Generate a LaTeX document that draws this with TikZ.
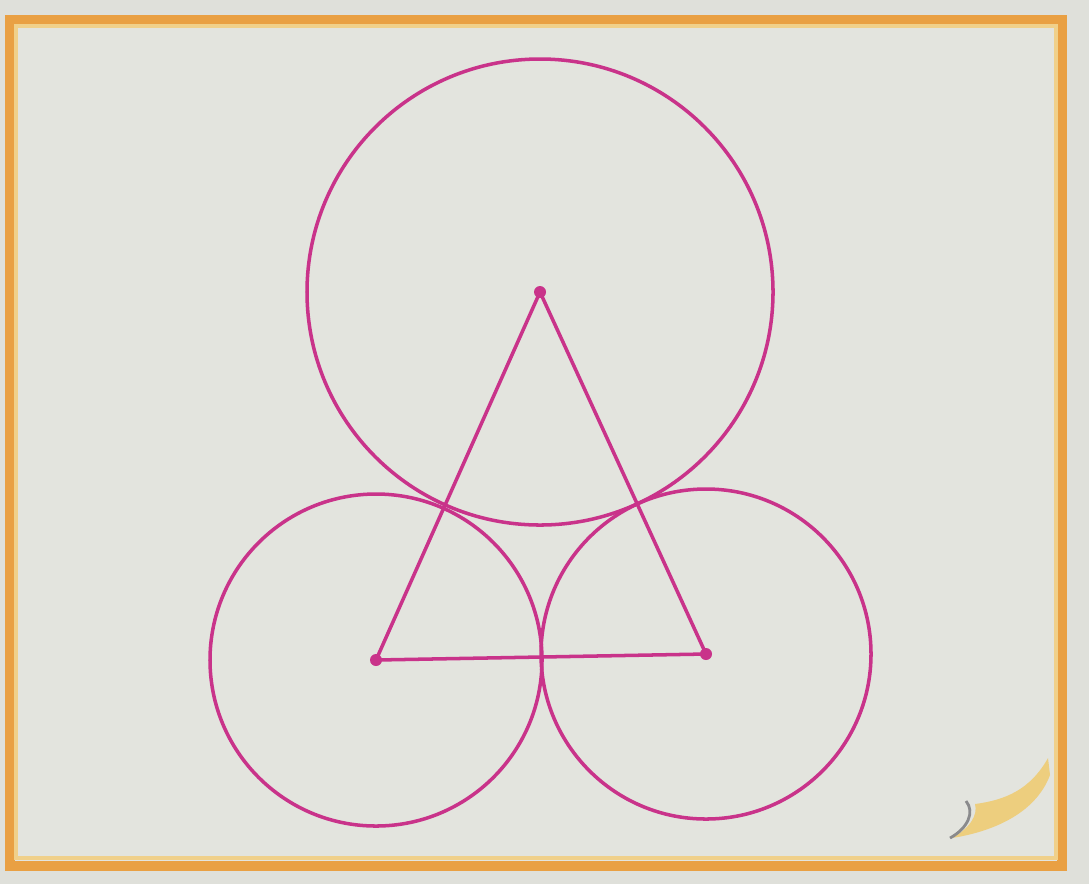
\documentclass[tikz,border=0pt]{standalone}
\usetikzlibrary{calc}
\definecolor{pagebg}{HTML}{DFE0DA}
\definecolor{framebg}{HTML}{E3E4DE}
\definecolor{frameorange}{HTML}{E9A043}
\definecolor{frameyellow}{HTML}{F0D08A}
\definecolor{curlfill}{HTML}{EDCE7E}
\definecolor{curlgray}{HTML}{8A8A8C}
\definecolor{magentaline}{HTML}{C9338A}

\begin{document}
\begin{tikzpicture}[
    x=0.01cm, y=-0.01cm,
    figline/.style={draw=magentaline, line width=1pt},
    vertexdot/.style={fill=magentaline},
    outerframe/.style={draw=frameorange, line width=3pt},
    innerframe/.style={draw=frameyellow, line width=1.2pt},
]

% --- Page and frame ---
\fill[pagebg] (0,0) rectangle (1089,884);
\useasboundingbox (0,0) rectangle (1089,884);
\fill[framebg] (12,22) rectangle (1060,864);
\draw[outerframe] (10,20) rectangle (1062,866);
\draw[innerframe] (16,26) rectangle (1056,858);

% --- Page curl ---
\fill[curlfill] (1048,758) .. controls (1030,790) and (1005,800) .. (975,804)
    .. controls (978,815) and (970,828) .. (952,838)
    .. controls (990,832) and (1035,815) .. (1050,775) -- cycle;
\draw[curlgray, line width=0.8pt] (966,801) .. controls (975,812) and (968,828) .. (950,838);

% --- Vertices ---
\coordinate (top) at (540,292);
\coordinate (left) at (376,660);
\coordinate (right) at (706,654);

% --- Circles ---
\draw[figline] (top) circle (233);
\draw[figline] (left) circle (166);
\draw[figline] (right) circle (165);

% --- Triangle ---
\draw[figline] (top) -- (left) -- (right) -- cycle;
\foreach \v in {top,left,right}
    \fill[vertexdot] (\v) circle (6);

\end{tikzpicture}
\end{document}
